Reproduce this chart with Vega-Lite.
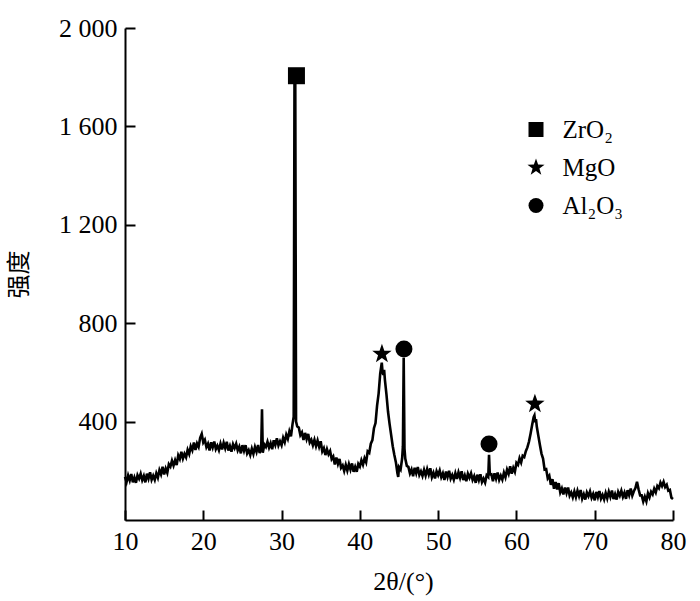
{
"$schema": "https://vega.github.io/schema/vega-lite/v6.json",
"width": 548, "height": 492,
"autosize": {"type": "none"},
"padding": {"left": 125, "top": 28, "right": 27, "bottom": 81},
"background": "white",
"config": {"view": {"stroke": null}, "font": "Liberation Serif"},
"datasets": {
"xrd": [
{"t":10.0,"i":175},{"t":10.2,"i":154},{"t":10.4,"i":181},{"t":10.6,"i":161},{"t":10.8,"i":187},{"t":11.0,"i":153},{"t":11.2,"i":173},{"t":11.4,"i":151},{"t":11.6,"i":182},{"t":11.8,"i":168},
{"t":12.0,"i":188},{"t":12.2,"i":162},{"t":12.4,"i":179},{"t":12.6,"i":153},{"t":12.8,"i":188},{"t":13.0,"i":168},{"t":13.2,"i":194},{"t":13.4,"i":164},{"t":13.6,"i":180},{"t":13.8,"i":163},
{"t":14.0,"i":190},{"t":14.2,"i":172},{"t":14.4,"i":203},{"t":14.6,"i":186},{"t":14.8,"i":216},{"t":15.0,"i":185},{"t":15.2,"i":209},{"t":15.4,"i":192},{"t":15.6,"i":227},{"t":15.8,"i":217},
{"t":16.0,"i":241},{"t":16.2,"i":221},{"t":16.4,"i":243},{"t":16.6,"i":223},{"t":16.8,"i":263},{"t":17.0,"i":248},{"t":17.2,"i":277},{"t":17.4,"i":250},{"t":17.6,"i":269},{"t":17.8,"i":255},
{"t":18.0,"i":285},{"t":18.2,"i":268},{"t":18.4,"i":300},{"t":18.6,"i":284},{"t":18.8,"i":315},{"t":19.0,"i":285},{"t":19.2,"i":311},{"t":19.4,"i":297},{"t":19.6,"i":334},{"t":19.8,"i":350},
{"t":20.0,"i":315},{"t":20.2,"i":326},{"t":20.4,"i":296},{"t":20.6,"i":310},{"t":20.8,"i":283},{"t":21.0,"i":316},{"t":21.2,"i":295},{"t":21.4,"i":319},{"t":21.6,"i":288},{"t":21.8,"i":302},
{"t":22.0,"i":284},{"t":22.2,"i":310},{"t":22.4,"i":287},{"t":22.6,"i":314},{"t":22.8,"i":292},{"t":23.0,"i":318},{"t":23.2,"i":282},{"t":23.4,"i":301},{"t":23.6,"i":278},{"t":23.8,"i":308},
{"t":24.0,"i":292},{"t":24.2,"i":310},{"t":24.4,"i":283},{"t":24.6,"i":298},{"t":24.8,"i":271},{"t":25.0,"i":304},{"t":25.2,"i":281},{"t":25.4,"i":304},{"t":25.6,"i":271},{"t":25.8,"i":284},
{"t":26.0,"i":264},{"t":26.2,"i":290},{"t":26.4,"i":269},{"t":26.6,"i":297},{"t":26.8,"i":277},{"t":27.0,"i":305},{"t":27.2,"i":272},{"t":27.4,"i":294},{"t":27.5,"i":450},{"t":27.6,"i":273},
{"t":27.8,"i":307},{"t":28.0,"i":297},{"t":28.2,"i":318},{"t":28.4,"i":294},{"t":28.6,"i":312},{"t":28.8,"i":288},{"t":29.0,"i":324},{"t":29.2,"i":305},{"t":29.4,"i":332},{"t":29.6,"i":303},
{"t":29.8,"i":320},{"t":30.0,"i":304},{"t":30.2,"i":334},{"t":30.4,"i":316},{"t":30.6,"i":347},{"t":30.8,"i":330},{"t":31.0,"i":360},{"t":31.2,"i":340},{"t":31.4,"i":390},{"t":31.55,"i":420},
{"t":31.65,"i":1780},{"t":31.75,"i":1780},{"t":31.85,"i":400},{"t":32.0,"i":380},{"t":32.2,"i":376},{"t":32.4,"i":345},{"t":32.6,"i":356},{"t":32.8,"i":325},{"t":33.0,"i":354},{"t":33.2,"i":329},
{"t":33.4,"i":350},{"t":33.6,"i":315},{"t":33.8,"i":326},{"t":34.0,"i":304},{"t":34.2,"i":326},{"t":34.4,"i":300},{"t":34.6,"i":323},{"t":34.8,"i":298},{"t":35.0,"i":320},{"t":35.2,"i":279},
{"t":35.4,"i":292},{"t":35.6,"i":264},{"t":35.8,"i":288},{"t":36.0,"i":267},{"t":36.2,"i":280},{"t":36.4,"i":248},{"t":36.6,"i":258},{"t":36.8,"i":226},{"t":37.0,"i":254},{"t":37.2,"i":228},
{"t":37.4,"i":248},{"t":37.6,"i":212},{"t":37.8,"i":222},{"t":38.0,"i":199},{"t":38.2,"i":224},{"t":38.4,"i":201},{"t":38.6,"i":227},{"t":38.8,"i":205},{"t":39.0,"i":230},{"t":39.2,"i":196},
{"t":39.4,"i":216},{"t":39.6,"i":196},{"t":39.8,"i":228},{"t":40.0,"i":217},{"t":40.2,"i":243},{"t":40.4,"i":225},{"t":40.6,"i":251},{"t":40.8,"i":235},{"t":41.0,"i":279},{"t":41.2,"i":273},
{"t":41.4,"i":310},{"t":41.6,"i":325},{"t":41.8,"i":373},{"t":42.0,"i":394},{"t":42.2,"i":465},{"t":42.4,"i":515},{"t":42.6,"i":595},{"t":42.8,"i":640},{"t":42.9,"i":600},{"t":43.0,"i":590},
{"t":43.1,"i":610},{"t":43.2,"i":570},{"t":43.4,"i":510},{"t":43.6,"i":440},{"t":43.8,"i":390},{"t":44.0,"i":345},{"t":44.2,"i":300},{"t":44.4,"i":265},{"t":44.6,"i":235},{"t":44.8,"i":190},
{"t":44.9,"i":175},{"t":45.0,"i":215},{"t":45.2,"i":205},{"t":45.4,"i":250},{"t":45.5,"i":300},{"t":45.6,"i":660},{"t":45.7,"i":290},{"t":45.8,"i":250},{"t":46.0,"i":220},{"t":46.2,"i":216},
{"t":46.4,"i":189},{"t":46.6,"i":205},{"t":46.8,"i":178},{"t":47.0,"i":212},{"t":47.2,"i":190},{"t":47.4,"i":215},{"t":47.6,"i":183},{"t":47.8,"i":198},{"t":48.0,"i":179},{"t":48.2,"i":204},
{"t":48.4,"i":181},{"t":48.6,"i":207},{"t":48.8,"i":185},{"t":49.0,"i":210},{"t":49.2,"i":174},{"t":49.4,"i":192},{"t":49.6,"i":169},{"t":49.8,"i":198},{"t":50.0,"i":182},{"t":50.2,"i":201},
{"t":50.4,"i":174},{"t":50.6,"i":190},{"t":50.8,"i":163},{"t":51.0,"i":197},{"t":51.2,"i":175},{"t":51.4,"i":200},{"t":51.6,"i":168},{"t":51.8,"i":183},{"t":52.0,"i":164},{"t":52.2,"i":190},
{"t":52.4,"i":167},{"t":52.6,"i":194},{"t":52.8,"i":172},{"t":53.0,"i":198},{"t":53.2,"i":162},{"t":53.4,"i":181},{"t":53.6,"i":158},{"t":53.8,"i":188},{"t":54.0,"i":172},{"t":54.2,"i":190},
{"t":54.4,"i":163},{"t":54.6,"i":178},{"t":54.8,"i":151},{"t":55.0,"i":184},{"t":55.2,"i":162},{"t":55.4,"i":186},{"t":55.6,"i":154},{"t":55.8,"i":168},{"t":56.0,"i":152},{"t":56.2,"i":182},
{"t":56.4,"i":175},{"t":56.5,"i":265},{"t":56.6,"i":185},{"t":56.8,"i":186},{"t":57.0,"i":158},{"t":57.2,"i":190},{"t":57.4,"i":168},{"t":57.6,"i":193},{"t":57.8,"i":163},{"t":58.0,"i":180},
{"t":58.2,"i":164},{"t":58.4,"i":193},{"t":58.6,"i":174},{"t":58.8,"i":205},{"t":59.0,"i":188},{"t":59.2,"i":218},{"t":59.4,"i":188},{"t":59.6,"i":212},{"t":59.8,"i":196},{"t":60.0,"i":232},
{"t":60.2,"i":224},{"t":60.4,"i":251},{"t":60.6,"i":234},{"t":60.8,"i":261},{"t":61.0,"i":256},{"t":61.2,"i":280},{"t":61.4,"i":295},{"t":61.6,"i":318},{"t":61.8,"i":350},{"t":62.0,"i":385},
{"t":62.2,"i":418},{"t":62.3,"i":425},{"t":62.4,"i":398},{"t":62.5,"i":410},{"t":62.6,"i":380},{"t":62.8,"i":342},{"t":63.0,"i":305},{"t":63.2,"i":270},{"t":63.4,"i":250},{"t":63.6,"i":205},
{"t":63.8,"i":207},{"t":64.0,"i":170},{"t":64.2,"i":180},{"t":64.4,"i":143},{"t":64.6,"i":166},{"t":64.8,"i":127},{"t":65.0,"i":154},{"t":65.2,"i":124},{"t":65.4,"i":150},{"t":65.6,"i":112},
{"t":65.8,"i":128},{"t":66.0,"i":104},{"t":66.2,"i":132},{"t":66.4,"i":109},{"t":66.6,"i":132},{"t":66.8,"i":99},{"t":67.0,"i":112},{"t":67.2,"i":92},{"t":67.4,"i":116},{"t":67.6,"i":93},
{"t":67.8,"i":119},{"t":68.0,"i":97},{"t":68.2,"i":122},{"t":68.4,"i":87},{"t":68.6,"i":105},{"t":68.8,"i":83},{"t":69.0,"i":112},{"t":69.2,"i":97},{"t":69.4,"i":116},{"t":69.6,"i":90},
{"t":69.8,"i":106},{"t":70.0,"i":80},{"t":70.2,"i":114},{"t":70.4,"i":93},{"t":70.6,"i":118},{"t":70.8,"i":87},{"t":71.0,"i":102},{"t":71.2,"i":84},{"t":71.4,"i":110},{"t":71.6,"i":88},
{"t":71.8,"i":115},{"t":72.0,"i":94},{"t":72.2,"i":120},{"t":72.4,"i":85},{"t":72.6,"i":105},{"t":72.8,"i":83},{"t":73.0,"i":114},{"t":73.2,"i":99},{"t":73.4,"i":119},{"t":73.6,"i":94},
{"t":73.8,"i":111},{"t":74.0,"i":86},{"t":74.2,"i":121},{"t":74.4,"i":101},{"t":74.6,"i":128},{"t":74.8,"i":99},{"t":75.0,"i":117},{"t":75.2,"i":130},{"t":75.4,"i":155},{"t":75.6,"i":125},
{"t":75.8,"i":100},{"t":76.0,"i":100},{"t":76.2,"i":75},{"t":76.4,"i":95},{"t":76.6,"i":76},{"t":76.8,"i":109},{"t":77.0,"i":92},{"t":77.2,"i":115},{"t":77.4,"i":104},{"t":77.6,"i":127},
{"t":77.8,"i":112},{"t":78.0,"i":138},{"t":78.2,"i":129},{"t":78.4,"i":152},{"t":78.6,"i":138},{"t":78.8,"i":155},{"t":79.0,"i":134},{"t":79.2,"i":143},{"t":79.4,"i":119},{"t":79.6,"i":122},
{"t":79.8,"i":90},{"t":80.0,"i":85}
],
"peaks": [
{"t":31.9,"i":1806,"phase":"ZrO₂"},
{"t":42.82,"i":675,"phase":"MgO"},
{"t":45.63,"i":695,"phase":"Al₂O₃"},
{"t":56.5,"i":309,"phase":"Al₂O₃"},
{"t":62.36,"i":472,"phase":"MgO"}
]
},
"layer": [
{
"data": {"name": "xrd"},
"mark": {"type": "line", "color": "black", "strokeWidth": 2.6},
"encoding": {
"x": {"field": "t", "type": "quantitative",
"scale": {"domain": [10, 80], "nice": false, "zero": false},
"axis": {"values": [10,20,30,40,50,60,70,80], "tickSize": -10, "tickWidth": 2, "tickColor": "black",
"domainWidth": 2, "domainColor": "black", "grid": false, "labelFlush": false, "labelOverlap": false,
"labelFont": "Liberation Serif", "labelFontSize": 26, "labelColor": "black", "labelPadding": 18,
"title": "2θ/(°)", "titleFont": "Liberation Serif", "titleFontSize": 26, "titleFontWeight": "normal", "titleColor": "black",
"titleX": 278, "titleY": 61, "titleBaseline": "middle", "titleAlign": "center"}},
"y": {"field": "i", "type": "quantitative",
"scale": {"domain": [0, 2000], "nice": false, "zero": true},
"axis": {"values": [400,800,1200,1600,2000], "tickSize": -10, "tickWidth": 2, "tickColor": "black",
"domainWidth": 2, "domainColor": "black", "grid": false, "labelFlush": false, "labelOverlap": false,
"labelFont": "Liberation Serif", "labelFontSize": 26, "labelColor": "black", "labelPadding": 18,
"labelExpr": "datum.value >= 1000 ? floor(datum.value/1000) + ' ' + substring(toString(1000 + datum.value % 1000), 1) : datum.label",
"title": "强度", "titleFont": "Noto Sans CJK SC", "titleFontSize": 24, "titleFontWeight": "normal", "titleColor": "black",
"titleX": -106, "titleY": 246, "titleAngle": -90, "titleBaseline": "middle", "titleAlign": "center"}}
}
},
{
"data": {"name": "peaks"},
"mark": {"type": "point", "filled": true, "opacity": 1, "color": "black", "size": 289},
"encoding": {
"x": {"field": "t", "type": "quantitative"},
"y": {"field": "i", "type": "quantitative"},
"shape": {"field": "phase", "type": "nominal",
"scale": {"domain": ["ZrO₂", "MgO", "Al₂O₃"], "range": ["square", "M0,-1.2L0.282,-0.388L1.141,-0.371L0.456,0.148L0.705,0.971L0,0.48L-0.705,0.971L-0.456,0.148L-1.141,-0.371L-0.282,-0.388Z", "circle"]},
"legend": {"orient": "none", "legendX": 398.5, "legendY": 89, "title": null, "padding": 0,
"symbolSize": 225, "symbolFillColor": "black", "symbolStrokeWidth": 0,
"labelFont": "Liberation Serif", "labelFontSize": 25, "labelColor": "black", "labelOffset": 14, "rowPadding": 12}}
}
}
]
}
